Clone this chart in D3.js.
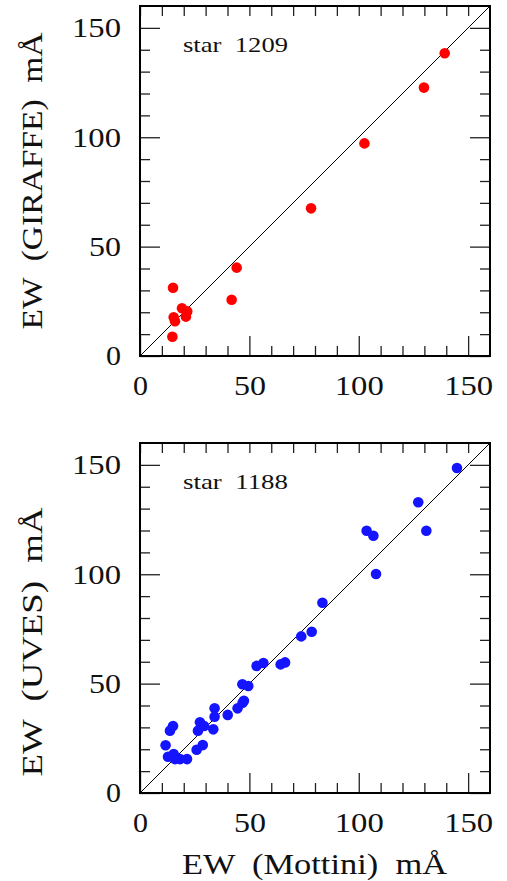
<!DOCTYPE html>
<html>
<head>
<meta charset="utf-8">
<script src="https://cdn.jsdelivr.net/npm/d3@7"></script>
<style>
  body { margin: 0; background: #fff; }
  svg { display: block; }
  text { white-space: pre; }
</style>
</head>
<body>
<div id="chart"></div>
<script>
// --- data (EW in mÅ) ---
const giraffeMottini = [139.3, 129.8, 102.6, 78.2, 44.2, 41.9, 15.1, 19.2, 21.6, 21.0, 15.4, 16.0, 14.8];
const giraffeEW      = [138.4, 122.7, 97.2, 67.5, 40.4, 25.7, 31.2, 21.8, 20.4, 18.0, 17.7, 15.9, 8.8];

const uvesMottini = [144.9, 127.2, 130.9, 103.6, 106.7, 107.9, 83.4, 78.5, 73.7, 66.3, 64.3, 56.4,
                     53.3, 49.5, 46.8, 47.5, 46.9, 44.6, 40.1, 34.1, 34.1, 33.5, 27.4, 29.3, 26.5,
                     28.7, 25.9, 15.1, 13.7, 11.7, 12.8, 15.4, 16.0, 18.3, 21.5];
const uvesEW      = [148.6, 132.9, 119.9, 119.9, 117.6, 100.1, 87.0, 73.7, 71.6, 59.7, 58.8, 59.4,
                     58.1, 48.9, 49.7, 42.2, 41.3, 38.7, 35.7, 38.7, 34.9, 29.1, 32.3, 30.6, 28.5,
                     21.9, 19.8, 30.6, 28.5, 21.8, 16.6, 17.8, 15.5, 15.5, 15.5];

const axisDomain = [0, 160];
const majorTicks = [0, 50, 100, 150];
const minorTicks = [10, 20, 30, 40, 60, 70, 80, 90, 110, 120, 130, 140];

const panels = [
  { label: 'star  1209', ylabel: 'EW  (GIRAFFE)  mÅ', xs: giraffeMottini, ys: giraffeEW,
    color: '#ff0000', top: 6, ylabelMid: 181, ylabelLen: 297 },
  { label: 'star  1188', ylabel: 'EW  (UVES)  mÅ', xs: uvesMottini, ys: uvesEW,
    color: '#1414ff', top: 443, ylabelMid: 642, ylabelLen: 269 },
];

const W = 507, H = 881;
const left = 140, size = 350;
const FONT = '"Liberation Serif", "Times New Roman", serif';

const svg = d3.select('#chart').append('svg')
  .attr('width', W)
  .attr('height', H);

const x = d3.scaleLinear().domain(axisDomain).range([0, size]);
const y = d3.scaleLinear().domain(axisDomain).range([size, 0]);

function styleAxis(g) {
  g.select('.domain').remove();
  g.selectAll('line').attr('stroke', '#222').attr('stroke-width', 1.3);
  g.attr('font-family', FONT).attr('font-size', 28);
  g.selectAll('text').attr('fill', '#111');
}

// tick labels are stretched a bit to mimic the wide plotter font
function widenLabels(g) {
  g.selectAll('text').each(function () {
    const t = d3.select(this);
    const n = t.text().length;
    t.attr('textLength', n * 17 - 2).attr('lengthAdjust', 'spacingAndGlyphs');
  });
}

panels.forEach((p) => {
  const g = svg.append('g').attr('transform', `translate(${left},${p.top})`);

  // 1:1 line
  g.append('line')
    .attr('x1', x(axisDomain[0])).attr('y1', y(axisDomain[0]))
    .attr('x2', x(axisDomain[1])).attr('y2', y(axisDomain[1]))
    .attr('stroke', '#000').attr('stroke-width', 1);

  // points
  g.selectAll('circle.pt')
    .data(p.xs.map((v, k) => [v, p.ys[k]]))
    .join('circle')
    .attr('class', 'pt')
    .attr('cx', d => x(d[0]))
    .attr('cy', d => y(d[1]))
    .attr('r', 5.3)
    .attr('fill', p.color);

  // bottom axis: major with labels + minor
  g.append('g').attr('transform', `translate(0,${size})`)
    .call(d3.axisBottom(x).tickValues(majorTicks).tickSizeInner(-20).tickSizeOuter(0).tickPadding(19))
    .call(styleAxis).call(widenLabels);
  g.append('g').attr('transform', `translate(0,${size})`)
    .call(d3.axisBottom(x).tickValues(minorTicks).tickSizeInner(-10).tickSizeOuter(0).tickFormat(''))
    .call(styleAxis);

  // left axis
  g.append('g')
    .call(d3.axisLeft(y).tickValues(majorTicks).tickSizeInner(-20).tickSizeOuter(0).tickPadding(19))
    .call(styleAxis).call(widenLabels);
  g.append('g')
    .call(d3.axisLeft(y).tickValues(minorTicks).tickSizeInner(-10).tickSizeOuter(0).tickFormat(''))
    .call(styleAxis);

  // top axis: short ticks only
  g.append('g')
    .call(d3.axisTop(x).tickValues(majorTicks.concat(minorTicks)).tickSizeInner(-10).tickSizeOuter(0).tickFormat(''))
    .call(styleAxis);

  // right axis
  g.append('g').attr('transform', `translate(${size},0)`)
    .call(d3.axisRight(y).tickValues(majorTicks).tickSizeInner(-20).tickSizeOuter(0).tickFormat(''))
    .call(styleAxis);
  g.append('g').attr('transform', `translate(${size},0)`)
    .call(d3.axisRight(y).tickValues(minorTicks).tickSizeInner(-10).tickSizeOuter(0).tickFormat(''))
    .call(styleAxis);

  // frame
  g.append('rect')
    .attr('x', 0).attr('y', 0)
    .attr('width', size).attr('height', size)
    .attr('fill', 'none').attr('stroke', '#000').attr('stroke-width', 2);

  // star label
  g.append('text')
    .attr('x', 43).attr('y', 46)
    .attr('font-family', FONT).attr('font-size', 22).attr('fill', '#111')
    .attr('textLength', 105).attr('lengthAdjust', 'spacingAndGlyphs')
    .text(p.label);

  // y label
  svg.append('text')
    .attr('transform', `translate(42,${p.ylabelMid}) rotate(-90)`)
    .attr('text-anchor', 'middle')
    .attr('font-family', FONT).attr('font-size', 29).attr('fill', '#111')
    .attr('textLength', p.ylabelLen).attr('lengthAdjust', 'spacingAndGlyphs')
    .text(p.ylabel);
});

// x label (bottom panel only)
svg.append('text')
  .attr('x', left + size / 2 - 0.5).attr('y', 874)
  .attr('text-anchor', 'middle')
  .attr('font-family', FONT).attr('font-size', 29).attr('fill', '#111')
  .attr('textLength', 265).attr('lengthAdjust', 'spacingAndGlyphs')
  .text('EW  (Mottini)  mÅ');
</script>
</body>
</html>
